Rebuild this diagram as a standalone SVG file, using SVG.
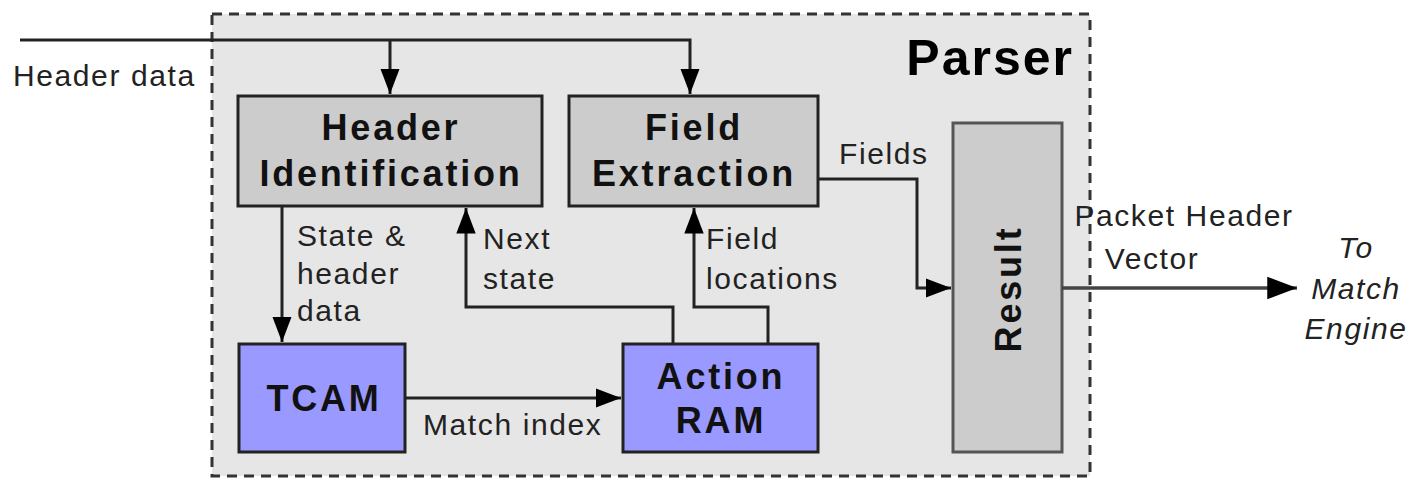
<svg xmlns="http://www.w3.org/2000/svg" width="1412" height="479" viewBox="0 0 1412 479">
<style>
.lbl{font-family:"Liberation Sans",Arial,sans-serif;font-size:30px;letter-spacing:1.6px;fill:#222}
.bold{font-family:"Liberation Sans",Arial,sans-serif;font-weight:bold;font-size:36px;letter-spacing:2.8px;fill:#111;text-anchor:middle}
.gray{fill:#cccccc;stroke:#222;stroke-width:3}
.blue{fill:#9999ff;stroke:#222;stroke-width:3}
.wire{fill:none;stroke:#222;stroke-width:3}
</style>
<defs>
<marker id="arr" viewBox="0 0 10 10" refX="10" refY="5" markerWidth="8.5" markerHeight="8.5" markerUnits="strokeWidth" orient="auto">
<path d="M0,1.2 L10,5 L0,8.8 z" fill="#000"/>
</marker>
</defs>
<rect width="1412" height="479" fill="#fff"/>
<g id="parser">
<rect x="212" y="14" width="878" height="462" fill="#e6e6e6" stroke="#333" stroke-width="3" stroke-dasharray="10,7"/>
<text x="1074" y="75" font-family="Liberation Sans,Arial,sans-serif" font-weight="bold" font-size="50" letter-spacing="2" fill="#000" text-anchor="end">Parser</text>
</g>
<g id="header-id">
<rect class="gray" x="238" y="96" width="304" height="110"/>
<text class="bold" x="391" y="140">Header</text>
<text class="bold" x="391" y="186">Identification</text>
</g>
<g id="field-extraction">
<rect class="gray" x="569" y="96" width="249" height="110"/>
<text class="bold" x="694" y="140">Field</text>
<text class="bold" x="694" y="186">Extraction</text>
</g>
<g id="result">
<rect x="953" y="123" width="109" height="329" fill="#cccccc" stroke="#555" stroke-width="3"/>
<text class="bold" x="0" y="0" transform="translate(1021,289) rotate(-90)">Result</text>
</g>
<g id="tcam">
<rect class="blue" x="239" y="344" width="166" height="108"/>
<text class="bold" x="324" y="411">TCAM</text>
</g>
<g id="action-ram">
<rect class="blue" x="623" y="344" width="195" height="108"/>
<text class="bold" x="721" y="389">Action</text>
<text class="bold" x="721" y="433">RAM</text>
</g>
<g id="connectors">
<path class="wire" d="M20,40 H690 V94" marker-end="url(#arr)"/>
<path class="wire" d="M390,40 V94" marker-end="url(#arr)"/>
<path class="wire" d="M282,206 V342" marker-end="url(#arr)"/>
<path class="wire" d="M673,344 V307 H466 V208" marker-end="url(#arr)"/>
<path class="wire" d="M768,344 V307 H694 V208" marker-end="url(#arr)"/>
<path class="wire" d="M405,398 H621" marker-end="url(#arr)"/>
<path class="wire" d="M818,179 H917 V288 H951" marker-end="url(#arr)"/>
<path d="M1062,288 H1297" fill="none" stroke="#444" stroke-width="3.5" marker-end="url(#arr)"/>
</g>
<g id="labels">
<text class="lbl" x="13" y="86">Header data</text>
<text class="lbl" x="839" y="164">Fields</text>
<text class="lbl" x="297" y="246">State &amp;</text>
<text class="lbl" x="297" y="284">header</text>
<text class="lbl" x="297" y="321">data</text>
<text class="lbl" x="483" y="249">Next</text>
<text class="lbl" x="483" y="289">state</text>
<text class="lbl" x="706" y="249">Field</text>
<text class="lbl" x="706" y="289">locations</text>
<text class="lbl" x="423" y="435">Match index</text>
<text class="lbl" x="1184" y="226" text-anchor="middle">Packet Header</text>
<text class="lbl" x="1152" y="269" text-anchor="middle">Vector</text>
<text class="lbl" x="1356" y="258" text-anchor="middle" font-style="italic">To</text>
<text class="lbl" x="1356" y="299" text-anchor="middle" font-style="italic">Match</text>
<text class="lbl" x="1356" y="339" text-anchor="middle" font-style="italic">Engine</text>
</g>
</svg>
